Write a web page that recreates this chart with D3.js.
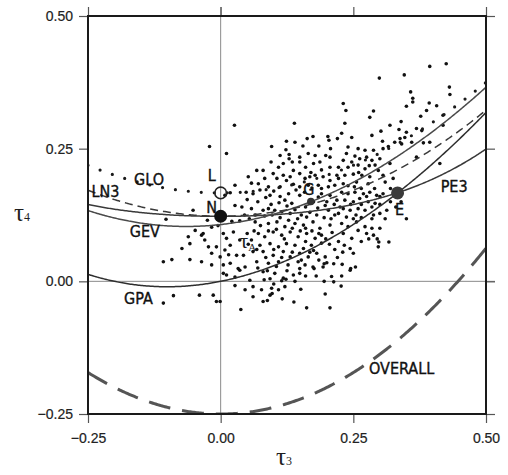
<!DOCTYPE html>
<html>
<head>
<meta charset="utf-8">
<script src="https://cdn.jsdelivr.net/npm/d3@7"></script>
<style>
  body { margin: 0; background: #fff; }
  svg { display: block; }
  .lab { font-family: "Liberation Sans Narrow", "DejaVu Sans Condensed", "Arial Narrow", sans-serif; font-size: 16px; fill: #111; stroke: #111; stroke-width: 0.35px; }
  .tick text { font-family: "Liberation Sans", Arial, sans-serif; font-size: 14px; fill: #222; stroke: #222; stroke-width: 0.2px; }
  .greek { font-family: "Liberation Serif", "DejaVu Serif", serif; fill: #1e1e1e; }
</style>
</head>
<body>
<svg id="chart" width="508" height="475"></svg>
<script>
// ---- axis ticks ----
const tickValues = [-0.25, 0.00, 0.25, 0.50];

// ---- theoretical L-moment ratio curves: tau4 = sum c[k] * tau3^k ----
const gloCoef = [1 / 6, 0, 5 / 6];
const gevCoef = [0.10701, 0.11090, 0.84838, -0.06669, 0.00567, -0.04208, 0.03763];
const ln3Coef = [0.12282, 0, 0.77518, 0, 0.12279, 0, -0.13638, 0, 0.11368];
const pe3Coef = [0.12240, 0, 0.30115, 0, 0.95812, 0, -0.57488, 0, 0.19383];
const overallCoef = [-0.25, 0, 1.25];
// GPA is rational: tau4 = tau3 (1 + 5 tau3) / (5 + tau3)

// ---- two-parameter distributions (tau3, tau4) ----
const pointNames = ["L", "N", "E", "G"];
const pointTau3 = [0, 0, 1 / 3, 0.1699];
const pointTau4 = [1 / 6, 0.1226, 1 / 6, 0.1504];

// ---- sample L-moment ratios of the sites (tau3, tau4) ----
const sites = [
 [-0.021,0.254],[0.011,0.241],[0.027,0.181],[0.052,0.197],[0.018,0.167],[0.048,0.168],[0.027,0.143],[0.050,0.154],
 [-0.103,0.117],[-0.052,0.134],[0.021,0.113],[0.036,0.114],[-0.017,0.102],[-0.048,0.096],[-0.036,0.087],[-0.061,0.084],
 [-0.030,0.078],[-0.023,0.065],[-0.073,0.062],[-0.058,0.071],[-0.008,0.065],[-0.017,0.053],[-0.001,0.046],[0.008,0.059],
 [0.018,0.068],[0.011,0.081],[0.024,0.093],[0.036,0.078],[-0.036,0.037],[-0.058,0.041],[-0.092,0.041],[-0.108,0.037],
 [-0.017,0.031],[0.005,0.031],[0.018,0.034],[0.033,0.024],[0.046,0.027],[0.030,0.049],[0.043,0.049],[0.011,0.012],
 [0.027,0.008],[0.036,0.021],[-0.089,-0.027],[-0.108,-0.041],[-0.040,-0.026],[-0.014,-0.026],[-0.008,-0.038],[-0.001,-0.038],
 [0.027,-0.008],[0.038,-0.053],[0.046,-0.016],[0.026,0.294],[-0.033,0.090],[0.054,0.118],[0.008,0.162],
 [0.082,0.003],[0.093,0.005],[0.088,-0.036],[0.097,-0.023],[0.116,-0.033],[0.138,-0.039],[0.151,-0.015],[0.162,-0.050],
 [0.197,-0.024],[0.206,-0.050],[0.227,-0.009],[0.213,-0.001],[0.176,0.024],[0.195,0.033],[0.213,0.033],[0.229,0.032],
 [0.245,0.024],[0.254,0.027],[0.295,0.080],[0.298,0.074],[0.317,0.074],[0.279,0.080],
 [0.061,0.165],[0.093,0.162],[0.121,0.153],[0.134,0.147],[0.149,0.162],[0.184,0.159],[0.206,0.162],[0.219,0.153],
 [0.197,0.143],[0.080,0.134],[0.115,0.131],[0.131,0.128],[0.162,0.121],[0.181,0.125],[0.203,0.134],[0.215,0.125],
 [0.065,0.112],[0.090,0.109],[0.106,0.112],[0.121,0.103],[0.140,0.109],[0.156,0.106],[0.174,0.112],[0.187,0.100],
 [0.206,0.106],[0.071,0.090],[0.083,0.084],[0.099,0.093],[0.115,0.087],[0.131,0.093],[0.146,0.084],[0.162,0.090],
 [0.178,0.081],[0.190,0.087],[0.058,0.078],[0.074,0.068],[0.093,0.071],[0.109,0.065],[0.124,0.071],[0.140,0.068],
 [0.156,0.062],[0.171,0.068],[0.061,0.056],[0.080,0.056],[0.099,0.049],[0.118,0.056],[0.131,0.046],[0.149,0.053],
 [0.165,0.046],[0.181,0.053],[0.197,0.046],[0.068,0.037],[0.090,0.034],[0.109,0.037],[0.127,0.031],[0.146,0.037],
 [0.149,0.024],[0.159,0.031],[0.174,0.027],[0.209,0.009],[0.193,0.027],[0.080,0.018],[0.102,0.015],[0.118,0.006],
 [0.137,0.012],[0.149,0.015],[0.115,0.001],[0.123,0.004],[0.055,0.002],[0.061,-0.010],[0.077,-0.016],[0.096,-0.013],
 [0.109,-0.016],[0.121,-0.010],[0.093,-0.026],[0.061,-0.029],[0.080,-0.038],
 [0.310,0.118],[0.350,0.118],[0.288,0.087],[0.297,0.065],[0.247,0.081],[0.244,0.062],[0.250,0.053],[0.244,0.021],
 [0.228,0.010],[0.259,0.096],[0.272,0.103],[0.285,0.118],[0.256,0.112],[0.228,0.168],[0.240,0.165],[0.253,0.168],
 [0.269,0.165],[0.281,0.168],[0.294,0.162],[0.306,0.165],[0.234,0.153],[0.250,0.150],[0.262,0.156],[0.278,0.150],
 [0.291,0.147],[0.231,0.137],[0.244,0.134],[0.259,0.137],[0.272,0.134],[0.237,0.121],[0.250,0.118],[0.228,0.109],
 [0.240,0.103],[0.231,0.090],[0.300,0.128],[0.313,0.134],[0.288,0.125],
 [0.139,0.298],[0.096,0.254],[0.124,0.264],[0.140,0.262],[0.163,0.269],[0.174,0.273],[0.202,0.273],[0.204,0.266],
 [0.220,0.269],[0.123,0.248],[0.129,0.239],[0.129,0.231],[0.112,0.237],[0.149,0.234],[0.165,0.241],[0.178,0.237],
 [0.198,0.237],[0.206,0.234],[0.207,0.250],[0.118,0.222],[0.109,0.215],[0.149,0.225],[0.187,0.225],[0.206,0.215],
 [0.068,0.209],[0.080,0.209],[0.083,0.194],[0.099,0.203],[0.118,0.200],[0.124,0.190],[0.131,0.197],[0.149,0.203],
 [0.159,0.194],[0.168,0.197],[0.178,0.200],[0.193,0.197],[0.206,0.190],[0.219,0.200],[0.058,0.185],[0.071,0.184],
 [0.090,0.178],[0.112,0.178],[0.137,0.183],[0.149,0.178],[0.165,0.181],[0.184,0.181],[0.190,0.175],[0.203,0.178],
 [0.215,0.181],[0.222,0.194],[0.222,0.215],
 [0.425,0.410],[0.394,0.405],[0.299,0.383],[0.346,0.389],[0.358,0.357],[0.362,0.345],[0.362,0.338],[0.350,0.330],
 [0.393,0.336],[0.407,0.331],[0.431,0.366],[0.432,0.352],[0.288,0.321],[0.281,0.309],[0.231,0.335],[0.236,0.322],
 [0.234,0.298],[0.388,0.322],[0.377,0.311],[0.419,0.313],[0.340,0.301],[0.319,0.294],[0.302,0.283],[0.285,0.275],
 [0.228,0.279],[0.247,0.271],[0.240,0.253],[0.259,0.250],[0.272,0.247],[0.288,0.247],[0.306,0.250],[0.316,0.254],
 [0.328,0.262],[0.338,0.269],[0.347,0.271],[0.369,0.288],[0.379,0.284],[0.350,0.281],[0.341,0.259],[0.360,0.262],
 [0.382,0.261],[0.394,0.262],[0.237,0.241],[0.253,0.236],[0.262,0.231],[0.275,0.234],[0.285,0.228],[0.300,0.231],
 [0.247,0.225],[0.231,0.228],[0.240,0.215],[0.259,0.219],[0.272,0.212],[0.291,0.219],[0.319,0.222],[0.369,0.234],
 [0.413,0.222],[0.234,0.200],[0.250,0.202],[0.266,0.200],[0.281,0.197],[0.306,0.200],[0.231,0.184],[0.256,0.187],
 [0.278,0.184],[0.310,0.187],[0.325,0.194],[0.297,0.209],[0.419,0.294],[0.305,0.264],[0.336,0.286],
 [0.074,0.172],[0.106,0.194],[0.137,0.209],[0.058,0.137],[0.090,0.137],[0.102,0.134],
 [0.070,0.150],[0.085,0.158],[0.100,0.170],[0.112,0.160],[0.128,0.165],[0.142,0.172],[0.158,0.168],[0.172,0.176],
 [0.190,0.165],[0.200,0.150],[0.214,0.145],[0.225,0.140],[0.160,0.140],[0.175,0.150],[0.183,0.138],[0.195,0.120],
 [0.208,0.118],[0.222,0.128],[0.168,0.130],[0.152,0.125],[0.140,0.135],[0.125,0.142],[0.110,0.148],[0.095,0.145],
 [0.083,0.123],[0.097,0.125],[0.112,0.120],[0.128,0.115],[0.145,0.118],[0.160,0.100],[0.172,0.095],[0.185,0.090],
 [0.198,0.080],[0.210,0.092],[0.222,0.075],[0.233,0.068],[0.215,0.060],[0.205,0.070],[0.190,0.072],[0.175,0.058],
 [0.160,0.075],[0.150,0.095],[0.135,0.100],[0.120,0.080],[0.105,0.098],[0.090,0.095],[0.075,0.105],[0.063,0.095],
 [0.050,0.090],[0.052,0.070],[0.068,0.060],[0.085,0.045],[0.100,0.060],[0.115,0.045],[0.135,0.055],[0.152,0.040],
 [0.168,0.055],[0.185,0.040],[0.200,0.035],[0.220,0.045],[0.230,0.055],[0.070,0.025],[0.088,0.020],[0.105,0.028],
 [0.125,0.020],[0.140,0.000],[0.160,0.010],[0.180,0.010],[0.195,0.000],[0.100,-0.005],
 [0.240,0.180],[0.252,0.178],[0.265,0.175],[0.275,0.160],[0.290,0.175],[0.300,0.160],[0.265,0.145],[0.285,0.140],
 [0.300,0.145],[0.245,0.145],[0.320,0.150],[0.330,0.140],[0.340,0.150],[0.320,0.175],[0.255,0.125],[0.265,0.120],
 [0.275,0.090],[0.265,0.075],[0.285,0.100],[0.300,0.100],[0.160,0.215],[0.175,0.222],[0.190,0.210],[0.135,0.225],
 [0.155,0.255],[0.185,0.255],[0.170,0.205],[0.095,0.225],[0.260,0.205],[0.280,0.218],[0.045,0.125],[0.040,0.140],
 [0.065,0.125],[-0.005,0.105],[0.005,0.090],[-0.025,0.115],[0.015,0.050],[0.005,0.015]
];

// ---- curve and point labels ----
const curveLabels = [
  { text: "GLO", t3: -0.135, t4: 0.181 },
  { text: "LN3", t3: -0.217, t4: 0.159 },
  { text: "GEV", t3: -0.143, t4: 0.083 },
  { text: "GPA", t3: -0.155, t4: -0.042 },
  { text: "PE3", t3: 0.440, t4: 0.169 },
  { text: "OVERALL", t3: 0.341, t4: -0.174 },
  { text: "L", t3: -0.017, t4: 0.190 },
  { text: "N", t3: -0.017, t4: 0.128 },
  { text: "E", t3: 0.337, t4: 0.125 },
  { text: "G", t3: 0.166, t4: 0.162 }
];

const svg = d3.select("#chart");
const x = d3.scaleLinear().domain([-0.25, 0.5]).range([88, 486]);
const y = d3.scaleLinear().domain([-0.25, 0.5]).range([414, 16]);

svg.append("defs").append("clipPath").attr("id", "plotClip")
  .append("rect").attr("x", 88).attr("y", 16).attr("width", 398).attr("height", 398);

// reference lines at zero
svg.append("line").attr("x1", x(0)).attr("x2", x(0)).attr("y1", 7).attr("y2", y(-0.25))
  .attr("stroke", "#8a8a8a").attr("stroke-width", 1);
svg.append("line").attr("x1", x(-0.25)).attr("x2", x(0.5) + 9).attr("y1", y(0)).attr("y2", y(0))
  .attr("stroke", "#8a8a8a").attr("stroke-width", 1);

// axes
const fmt = d3.format(".2f");
function styleAxis(g) {
  g.select(".domain").remove();
  g.selectAll(".tick line").attr("stroke", "#555").attr("stroke-width", 1.2);
}
svg.append("g").attr("transform", `translate(88,0)`)
  .call(d3.axisLeft(y).tickValues(tickValues).tickFormat(fmt).tickSize(9).tickPadding(6)).call(styleAxis);
svg.append("g").attr("transform", `translate(0,414)`)
  .call(d3.axisBottom(x).tickValues(tickValues).tickFormat(fmt).tickSize(9).tickPadding(10)).call(styleAxis);
svg.append("g").attr("transform", `translate(0,16)`)
  .call(d3.axisTop(x).tickValues(tickValues).tickFormat("").tickSize(9)).call(styleAxis);
svg.append("g").attr("transform", `translate(486,0)`)
  .call(d3.axisRight(y).tickValues(tickValues).tickFormat("").tickSize(9)).call(styleAxis);

// sites
const plot = svg.append("g").attr("clip-path", "url(#plotClip)");
plot.append("g").selectAll("circle").data(sites).join("circle")
  .attr("cx", d => x(d[0])).attr("cy", d => y(d[1])).attr("r", 1.8).attr("fill", "#111");

// curves
const poly = c => t => c.reduce((s, ck, k) => s + ck * Math.pow(t, k), 0);
const gpa = t => t * (1 + 5 * t) / (5 + t);
const t3Grid = d3.range(-0.25, 0.5001, 0.0025);
const line = f => d3.line().x(t => x(t)).y(t => y(f(t)))(t3Grid);

plot.append("path").attr("d", line(poly(overallCoef))).attr("fill", "none")
  .attr("stroke", "#555").attr("stroke-width", 3).attr("stroke-dasharray", "22,12");
plot.append("path").attr("d", line(gpa)).attr("fill", "none").attr("stroke", "#2e2e2e").attr("stroke-width", 1.5);
plot.append("path").attr("d", line(poly(pe3Coef))).attr("fill", "none").attr("stroke", "#3a3a3a").attr("stroke-width", 1.5);
plot.append("path").attr("d", line(poly(gevCoef))).attr("fill", "none").attr("stroke", "#4a4a4a").attr("stroke-width", 1.5);
plot.append("path").attr("d", line(poly(ln3Coef))).attr("fill", "none")
  .attr("stroke", "#3a3a3a").attr("stroke-width", 1.5).attr("stroke-dasharray", "8,5");
plot.append("path").attr("d", line(poly(gloCoef))).attr("fill", "none")
  .attr("stroke", "#1a1a1a").attr("stroke-width", 3.2).attr("stroke-linecap", "round").attr("stroke-dasharray", "0,13");

// two-parameter distribution points
const pts = pointNames.map((n, i) => ({ n, t3: pointTau3[i], t4: pointTau4[i] }));
pts.forEach(p => {
  const c = svg.append("circle").attr("cx", x(p.t3)).attr("cy", y(p.t4));
  if (p.n === "L") c.attr("r", 5.8).attr("fill", "none").attr("stroke", "#222").attr("stroke-width", 1.6);
  else if (p.n === "N") c.attr("r", 6.5).attr("fill", "#111");
  else if (p.n === "E") c.attr("r", 6.5).attr("fill", "#3a3a3a");
  else c.attr("r", 3.8).attr("fill", "#333");
});

// frame
svg.append("rect").attr("x", 88).attr("y", 16).attr("width", 398).attr("height", 398)
  .attr("fill", "none").attr("stroke", "#1a1a1a").attr("stroke-width", 2);

// labels
svg.append("g").selectAll("text").data(curveLabels).join("text")
  .attr("class", "lab").attr("text-anchor", "middle")
  .attr("x", d => x(d.t3)).attr("y", d => y(d.t4)).text(d => d.text);

// regional average label
const ta = svg.append("text").attr("class", "greek").attr("x", x(0.036)).attr("y", y(0.063)).attr("font-size", 21);
ta.append("tspan").text("τ");
ta.append("tspan").attr("font-size", 11).attr("dy", 3).text("A");

// axis titles
const t4 = svg.append("text").attr("class", "greek").attr("x", 14).attr("y", 221).attr("font-size", 25);
t4.append("tspan").text("τ");
t4.append("tspan").attr("font-size", 12).text("4");
const t3 = svg.append("text").attr("class", "greek").attr("x", 276).attr("y", 465).attr("font-size", 25);
t3.append("tspan").text("τ");
t3.append("tspan").attr("font-size", 12).text("3");
</script>
</body>
</html>
